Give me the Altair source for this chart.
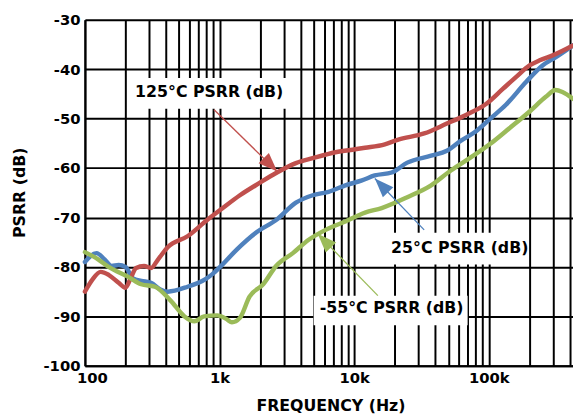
import altair as alt
import pandas as pd

# ---- data ----
red_freq = [100, 114, 131, 150, 178, 200, 217, 240, 275, 310, 349, 412, 578, 809, 1010, 1417, 1982, 2630,
            3690, 4920, 7270, 10170, 12040, 16900, 21000, 33100, 48800, 68300, 95900, 127000, 159000,
            202000, 239000, 298000, 422000]
red_db = [-85.0, -82.5, -81.0, -81.6, -83.2, -84.2, -82.5, -80.2, -79.8, -80.2, -78.5, -76.0, -73.8, -70.5,
          -68.5, -65.5, -63.0, -61.0, -59.0, -58.0, -56.8, -56.2, -55.9, -55.2, -54.3, -53.0, -51.0, -49.2,
          -47.0, -44.0, -41.6, -39.2, -38.2, -37.2, -35.2]

blue_freq = [100, 122, 140, 158, 178, 200, 228, 262, 310, 360, 412, 578, 781, 881, 1010, 1342, 1881, 2630,
             3690, 4920, 6450, 8600, 11430, 14200, 19000, 24800, 37300, 48800, 61700, 80900, 102600,
             134000, 189000, 252000, 313000, 422000]
blue_db = [-79.0, -77.2, -78.5, -79.8, -79.6, -80.0, -82.3, -82.8, -83.2, -84.5, -85.0, -84.0, -82.5, -81.5,
           -80.0, -76.5, -73.0, -70.5, -67.0, -65.5, -64.8, -63.5, -62.5, -61.5, -60.9, -58.9, -57.5, -56.5,
           -54.5, -52.5, -50.0, -47.2, -42.6, -39.2, -37.6, -35.2]

green_freq = [100, 126, 150, 210, 262, 331, 433, 549, 651, 769, 960, 1135, 1235, 1417, 1670, 2110, 2630,
              3505, 4595, 6140, 8600, 12040, 16000, 24800, 37300, 52200, 73000, 102600, 143000, 202000,
              265000, 313000, 352000, 422000]
green_db = [-77.0, -78.5, -80.0, -82.0, -83.5, -84.0, -86.8, -90.0, -91.0, -90.0, -89.8, -90.6, -91.2, -90.3,
            -86.0, -83.5, -79.8, -77.2, -74.5, -72.5, -70.8, -69.0, -68.1, -65.9, -63.5, -60.5, -57.9, -55.1,
            -51.9, -48.5, -45.6, -44.2, -44.6, -46.0]

x_grid = [100, 200, 300, 400, 500, 600, 700, 800, 900,
          1000, 2000, 3000, 4000, 5000, 6000, 7000, 8000, 9000,
          10000, 20000, 30000, 40000, 50000, 60000, 70000, 80000, 90000,
          100000, 200000, 300000, 400000]
y_ticks = [-100, -90, -80, -70, -60, -50, -40, -30]

labels = ["125°C PSRR (dB)", "25°C PSRR (dB)", "-55°C PSRR (dB)"]
label_freq = [838, 60800, 18970]
label_db = [-44.6, -76.1, -88.4]
box_f1 = [214, 16300, 5000]
box_f2 = [3400, 194600, 69600]
box_db1 = [-41.8, -73.1, -85.8]
box_db2 = [-48.0, -79.5, -91.8]
arrow_f_start = [911, 33100, 14990]
arrow_db_start = [-48.2, -72.5, -85.8]
arrow_f_tip = [2683, 14240, 5358]
arrow_db_tip = [-60.7, -62.1, -73.3]
arrow_angle = [135, 316, 316]

colors = ["#C0504D", "#4F81BD", "#9BBB59"]

FONT = "DejaVu Sans"

x_scale = alt.Scale(type="log", domain=[100, 422000], nice=False)
y_scale = alt.Scale(domain=[-100, -30], nice=False, zero=False)
color_scale = alt.Scale(domain=labels, range=colors)

x_axis = alt.Axis(
    values=x_grid,
    labelExpr="datum.value == 100 ? '100' : datum.value == 1000 ? '1k' : datum.value == 10000 ? '10k' : datum.value == 100000 ? '100k' : ''",
    title="FREQUENCY (Hz)",
    grid=True, gridColor="black", gridWidth=2, gridOpacity=1,
    domainColor="black", domainWidth=2, ticks=False,
    labelPadding=5, labelFont=FONT, labelFontSize=15, labelFontWeight="bold", labelColor="black",
    labelFlush=False, labelOverlap=False,
    labelOffset={"condition": {"test": "datum.value == 100", "value": 7}, "value": 0},
    titleFont=FONT, titleFontSize=16, titleFontWeight="bold", titleColor="black",
    titleY=45, titleBaseline="alphabetic", titleX=249,
)
y_axis = alt.Axis(
    values=y_ticks,
    labelExpr="'' + datum.value",
    title="PSRR (dB)",
    grid=True, gridColor="black", gridWidth=2, gridOpacity=1,
    domainColor="black", domainWidth=2, ticks=False,
    labelPadding=5, labelFont=FONT, labelFontSize=15, labelFontWeight="bold", labelColor="black",
    labelOverlap=False,
    titleFont=FONT, titleFontSize=16, titleFontWeight="bold", titleColor="black",
    titleX=-66, titleY=175, titleAngle=270, titleAlign="center", titleBaseline="middle",
)


def X(field):
    return alt.X(field, scale=x_scale, axis=x_axis)


def Y(field):
    return alt.Y(field, scale=y_scale, axis=y_axis)


def line_layer(f, d, col):
    return alt.Chart(pd.DataFrame({"freq": f, "db": d})).mark_line(
        color=col, strokeWidth=4.5, interpolate="monotone", strokeCap="round", strokeJoin="round"
    ).encode(x=X("freq:Q"), y=Y("db:Q"))


ann = pd.DataFrame({
    "label": labels, "lf": label_freq, "ld": label_db,
    "bf1": box_f1, "bf2": box_f2, "bd1": box_db1, "bd2": box_db2,
    "af": arrow_f_start, "ad": arrow_db_start, "tf": arrow_f_tip, "td": arrow_db_tip,
    "ang": arrow_angle,
})

boxes = alt.Chart(ann).mark_rect(color="white").encode(
    x=X("bf1:Q"), x2="bf2:Q", y=Y("bd1:Q"), y2="bd2:Q",
)
texts = alt.Chart(ann).mark_text(
    font=FONT, fontSize=16, fontWeight="bold", color="black", align="center", baseline="middle"
).encode(x=X("lf:Q"), y=Y("ld:Q"), text="label:N")
shafts = alt.Chart(ann).mark_rule(strokeWidth=1.3).encode(
    x=X("af:Q"), x2="tf:Q", y=Y("ad:Q"), y2="td:Q",
    color=alt.Color("label:N", scale=color_scale, legend=None),
)
heads = alt.Chart(ann).mark_point(
    shape="M0,0 L-0.38,1 L0.38,1 Z", filled=True, size=1500, opacity=1, strokeWidth=0
).encode(
    x=X("tf:Q"), y=Y("td:Q"),
    angle=alt.Angle("ang:Q", scale=None),
    color=alt.Color("label:N", scale=color_scale, legend=None),
)

chart = alt.layer(
    line_layer(blue_freq, blue_db, colors[1]),
    line_layer(red_freq, red_db, colors[0]),
    line_layer(green_freq, green_db, colors[2]),
    boxes, shafts, heads, texts,
).properties(
    width=495, height=351,
    autosize=alt.AutoSizeParams(type="none"),
    padding={"left": 78, "top": 9, "right": 0, "bottom": 50},
    background="white",
).configure_view(stroke=None)

chart.save("out.html", embed_options={"renderer": "svg", "actions": False})
